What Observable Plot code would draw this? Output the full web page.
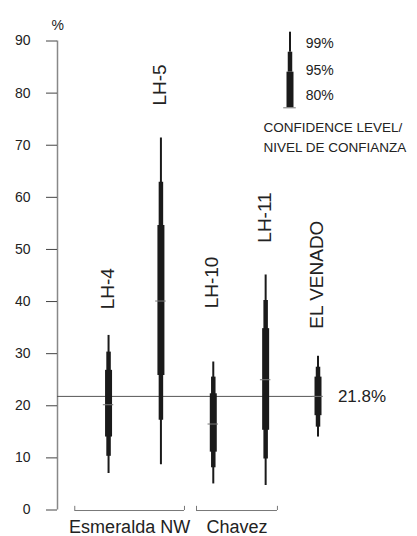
<!DOCTYPE html>
<html><head><meta charset="utf-8">
<script src="https://cdn.jsdelivr.net/npm/d3@7"></script>
<script src="https://cdn.jsdelivr.net/npm/@observablehq/plot@0.6"></script>
<style>body{margin:0;background:#fff} #chart svg{display:block}</style>
</head><body><div id="chart"></div>
<script>
// ---- data ----
const sites  = ["LH-4", "LH-5", "LH-10", "LH-11", "EL VENADO"];
const median = [20.2, 40.1, 16.5, 25.0, 21.8];
const lo99 = [7.0, 8.7, 5.0, 4.7, 14.0];
const hi99 = [33.5, 71.4, 28.4, 45.1, 29.5];
const lo95 = [10.3, 17.2, 8.1, 9.8, 15.9];
const hi95 = [30.3, 62.9, 25.5, 40.2, 27.4];
const lo80 = [14.0, 25.8, 11.1, 15.3, 18.1];
const hi80 = [26.8, 54.6, 22.3, 34.8, 25.5];
const labelAt = [38.5, 77.6, 38.7, 51.3, 34.8];
const refValue = 21.8;
const refLabel = "21.8%";
const yTicks = [0, 10, 20, 30, 40, 50, 60, 70, 80, 90];
const groups = [
  {name: "Esmeralda NW", first: 0, last: 1},
  {name: "Chavez", first: 2, last: 3}
];
const levels = ["99%", "95%", "80%"];
const legendTitle = ["CONFIDENCE LEVEL/", "NIVEL DE CONFIANZA"];

// ---- layout ----
const xDomain = [-0.975, 5.9];
const ink = "#1a1a1a";
const font = "Liberation Sans, Arial, Helvetica, sans-serif";
const rows = sites.map((s, i) => ({site: s, i, median: median[i], lo99: lo99[i], hi99: hi99[i],
  lo95: lo95[i], hi95: hi95[i], lo80: lo80[i], hi80: hi80[i], labelAt: labelAt[i]}));
const groupRows = [
  {...groups[0], x1: groups[0].first - 0.645, x2: groups[0].last + 0.45},
  {...groups[1], x1: groups[1].first - 0.32, x2: groups[1].last + 0.225}
].map(g => ({...g, xc: (g.x1 + g.x2) / 2}));
const bracketY = -0.1, bracketTip = 0.7;
// legend key (in chart units)
const keyX = 3.465;
const keySegs = [
  {level: levels[0], y1: 87.85, y2: 91.69, w: 2, ty: 89.5},
  {level: levels[1], y1: 84.02, y2: 87.85, w: 4.5, ty: 84.34},
  {level: levels[2], y1: 77.18, y2: 84.02, w: 7, ty: 79.54}
];
const titleRows = [{t: legendTitle[0], y: 73.4}, {t: legendTitle[1], y: 69.6}];

const chart = Plot.plot({
  width: 417, height: 536,
  marginLeft: 57, marginRight: 0, marginTop: 40.5, marginBottom: 26.5,
  style: {fontFamily: font, fontSize: "14px", background: "#fff", color: "#222"},
  x: {domain: xDomain, axis: null},
  y: {domain: [0, 90], axis: null},
  marks: [
    Plot.ruleX([xDomain[0]], {y1: 0, y2: 90, stroke: "#888", strokeWidth: 1.5}),
    Plot.axisY(yTicks, {anchor: "left", tickSize: 11, tickPadding: 16, label: null, stroke: "#444", fill: "#222"}),
    Plot.text(["%"], {frameAnchor: "top-left", dx: -6, dy: -21, fontSize: 14, fill: "#222"}),
    Plot.ruleY([refValue], {x1: xDomain[0], x2: sites.length - 1 + 0.09, stroke: "#555", strokeWidth: 1}),
    Plot.text([refValue], {x: sites.length - 1 + 0.38, y: d => d, text: () => refLabel, textAnchor: "start", fontSize: 17, fill: "#222"}),
    Plot.ruleX(rows, {x: "i", y1: "lo99", y2: "hi99", stroke: ink, strokeWidth: 2}),
    Plot.ruleX(rows, {x: "i", y1: "lo95", y2: "hi95", stroke: ink, strokeWidth: 4.5}),
    Plot.ruleX(rows, {x: "i", y1: "lo80", y2: "hi80", stroke: ink, strokeWidth: 7}),
    Plot.ruleY(rows, {y: "median", x1: d => d.i - 0.1, x2: d => d.i + 0.1, stroke: "#777", strokeWidth: 1}),
    Plot.text(rows, {x: "i", y: "labelAt", text: "site", rotate: -90, textAnchor: "start", lineAnchor: "middle", dx: -1, fontSize: 19, fill: "#222"}),
    // group brackets
    Plot.ruleY(groupRows, {y: bracketY, x1: "x1", x2: "x2", stroke: "#777", strokeWidth: 1}),
    Plot.ruleX(groupRows, {x: "x1", y1: bracketY, y2: bracketTip, stroke: "#777", strokeWidth: 1}),
    Plot.ruleX(groupRows, {x: "x2", y1: bracketY, y2: bracketTip, stroke: "#777", strokeWidth: 1}),
    Plot.text(groupRows, {x: "xc", y: -3.3, text: "name", fontSize: 18, fill: "#222"}),
    // legend key
    Plot.ruleX(keySegs, {x: keyX, y1: "y1", y2: "y2", strokeWidth: "w", stroke: ink}),
    Plot.ruleY([keySegs[2].y1], {x1: keyX - 0.12, x2: keyX + 0.12, stroke: "#777", strokeWidth: 1}),
    Plot.text(keySegs, {x: keyX + 0.3, y: "ty", text: "level", textAnchor: "start", fontSize: 14, fill: "#222"}),
    Plot.text(titleRows, {x: 2.96, y: "y", text: "t", textAnchor: "start", fontSize: 13.5, fill: "#222"})
  ]
});
document.getElementById("chart").appendChild(chart);
</script>
</body></html>
